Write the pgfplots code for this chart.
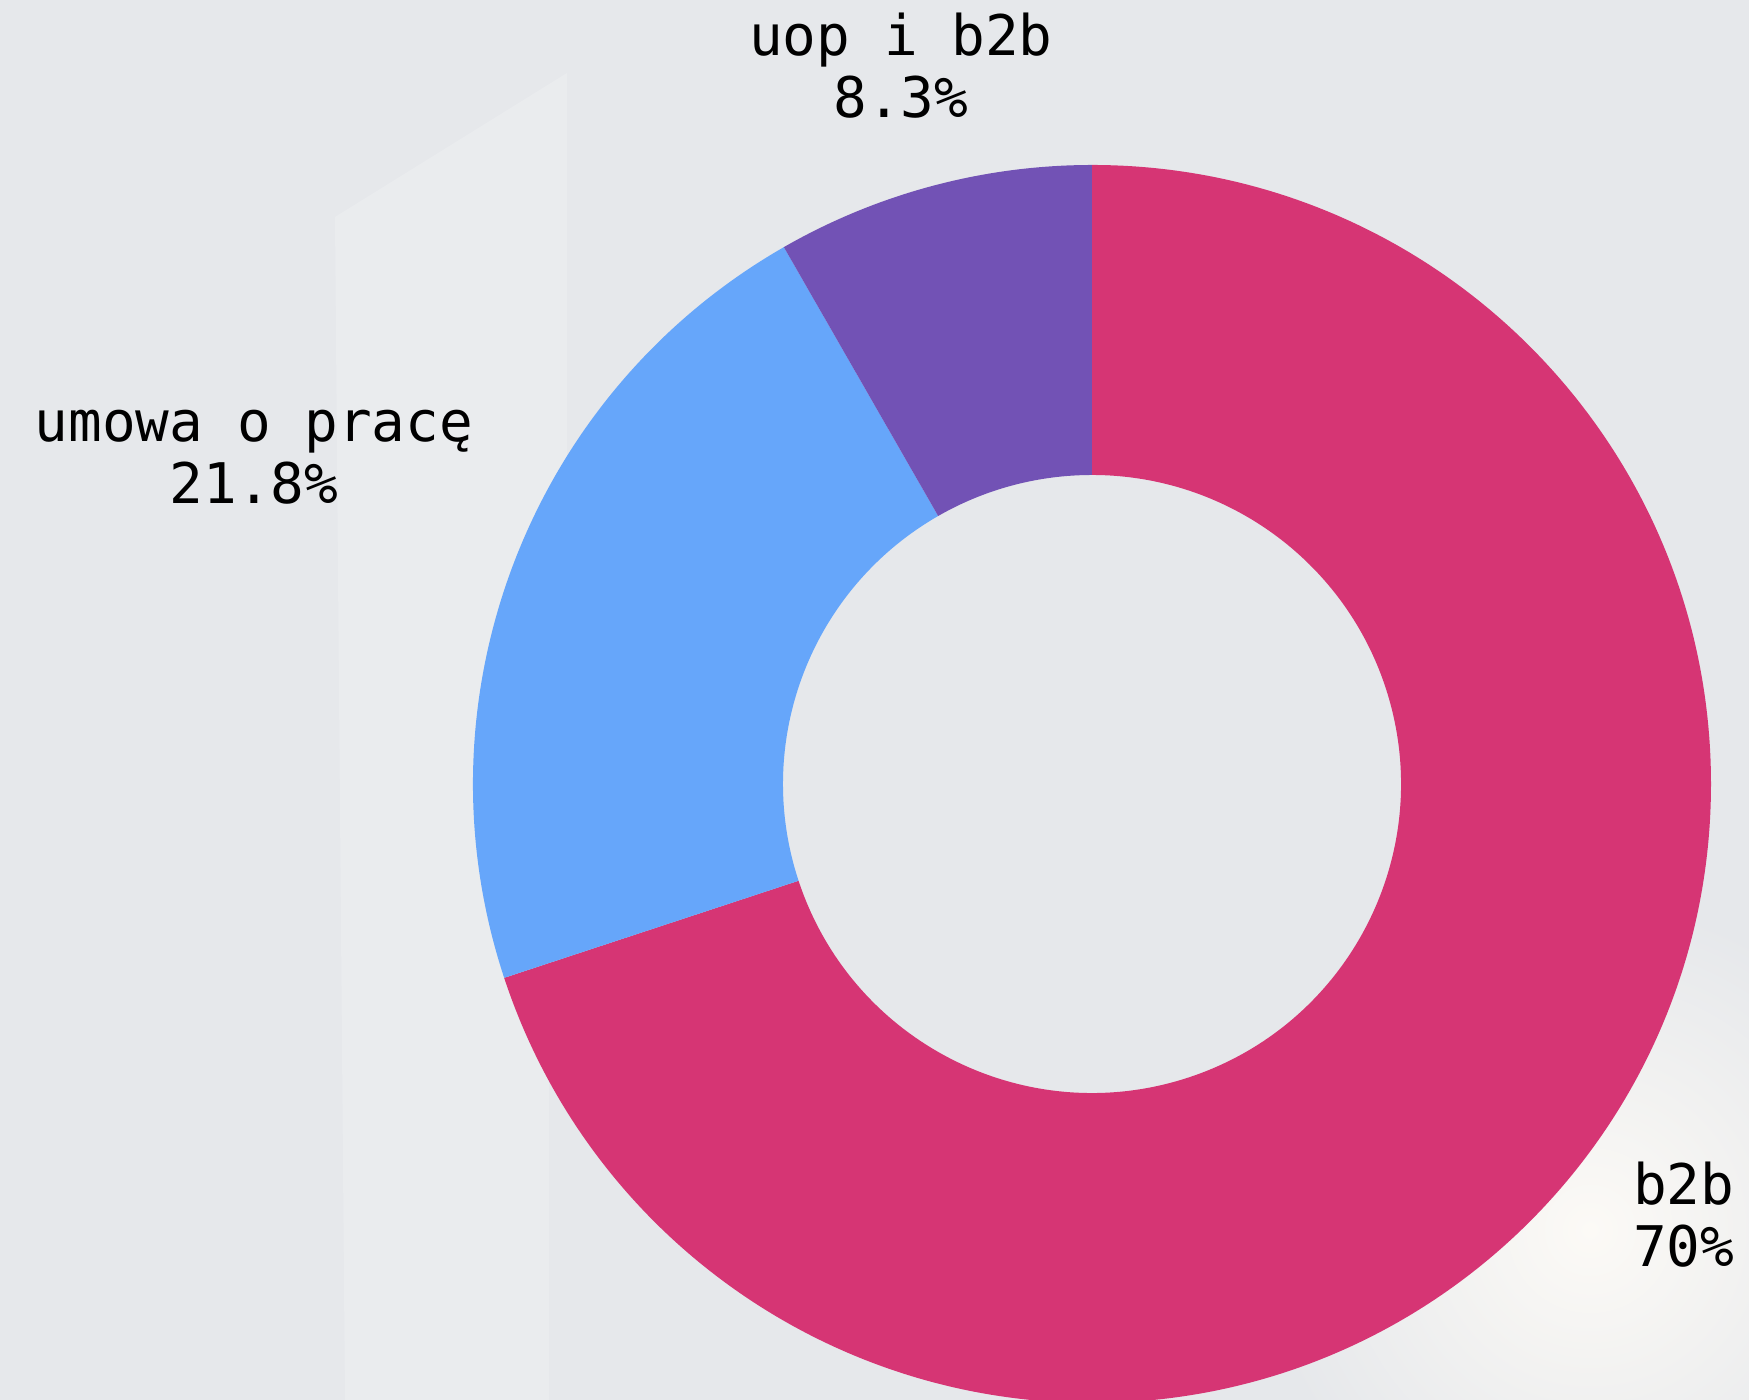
\documentclass[border=0pt]{standalone}
\usepackage{pgfplots}
\pgfplotsset{compat=1.18}
\usepackage{pgfplotstable}
\usepackage{fontspec}
\newfontfamily\labelfont{DejaVu Sans Mono}

\definecolor{bgc}{RGB}{230,232,235}
\definecolor{glow}{RGB}{252,250,246}
\definecolor{cb2b}{RGB}{214,53,116}
\definecolor{cuop}{RGB}{102,166,250}
\definecolor{cmix}{RGB}{114,82,181}

% udzial form zatrudnienia (%)
\pgfplotstableread{
label   value
b2b     70
uop     21.8
mix     8.3
}\shares

\begin{document}
\begin{tikzpicture}
% wartosci z tabeli -> katy (zgodnie z ruchem wskazowek, od gory)
\pgfplotstablegetelem{0}{value}\of\shares \let\va\pgfplotsretval
\pgfplotstablegetelem{1}{value}\of\shares \let\vb\pgfplotsretval
\pgfplotstablegetelem{2}{value}\of\shares \let\vc\pgfplotsretval
\pgfmathsetmacro\tot{\va+\vb+\vc}
\pgfmathsetmacro\aA{90}
\pgfmathsetmacro\aB{\aA-360*(\va/\tot)}
\pgfmathsetmacro\aC{\aB-360*(\vb/\tot)}
\pgfmathsetmacro\aD{\aC-360*(\vc/\tot)}
\def\Ro{154.75pt}
\def\Ri{77.25pt}
\tikzset{lbl/.style={font=\labelfont\fontsize{14}{15.5}\selectfont}}
\begin{axis}[
    hide axis,
    x=0.25pt, y=0.25pt,
    xmin=0, xmax=1749,
    ymin=0, ymax=1400,
    clip=true,
]
% tlo
\fill[bgc] (axis cs:0,0) rectangle (axis cs:1749,1400);
\fill[white, opacity=0.18] (axis cs:335,1183) -- (axis cs:567,1327) -- (axis cs:567,430)
   -- (axis cs:549,400) -- (axis cs:549,0) -- (axis cs:345,0) -- cycle;
\shade[inner color=glow, outer color=bgc] (axis cs:1590,170) circle [radius=330];

\begin{scope}[shift={(axis cs:1092,616)}]
  \fill[cb2b] (\aA:\Ro) arc[start angle=\aA, end angle=\aB, radius=\Ro]
     -- (\aB:\Ri) arc[start angle=\aB, end angle=\aA, radius=\Ri] -- cycle;
  \fill[cuop] (\aB:\Ro) arc[start angle=\aB, end angle=\aC, radius=\Ro]
     -- (\aC:\Ri) arc[start angle=\aC, end angle=\aB, radius=\Ri] -- cycle;
  \fill[cmix] (\aC:\Ro) arc[start angle=\aC, end angle=\aD, radius=\Ro]
     -- (\aD:\Ri) arc[start angle=\aD, end angle=\aC, radius=\Ri] -- cycle;
\end{scope}

% etykiety
\node[lbl, align=center] at (axis cs:901,1334) {uop i b2b\\8.3\%};
\node[lbl, align=center] at (axis cs:254,943) {umowa o pracę\\21.8\%};
\node[lbl, align=left, anchor=west] at (axis cs:1619,185) {b2b\\70\%};
\end{axis}
\end{tikzpicture}
\end{document}
